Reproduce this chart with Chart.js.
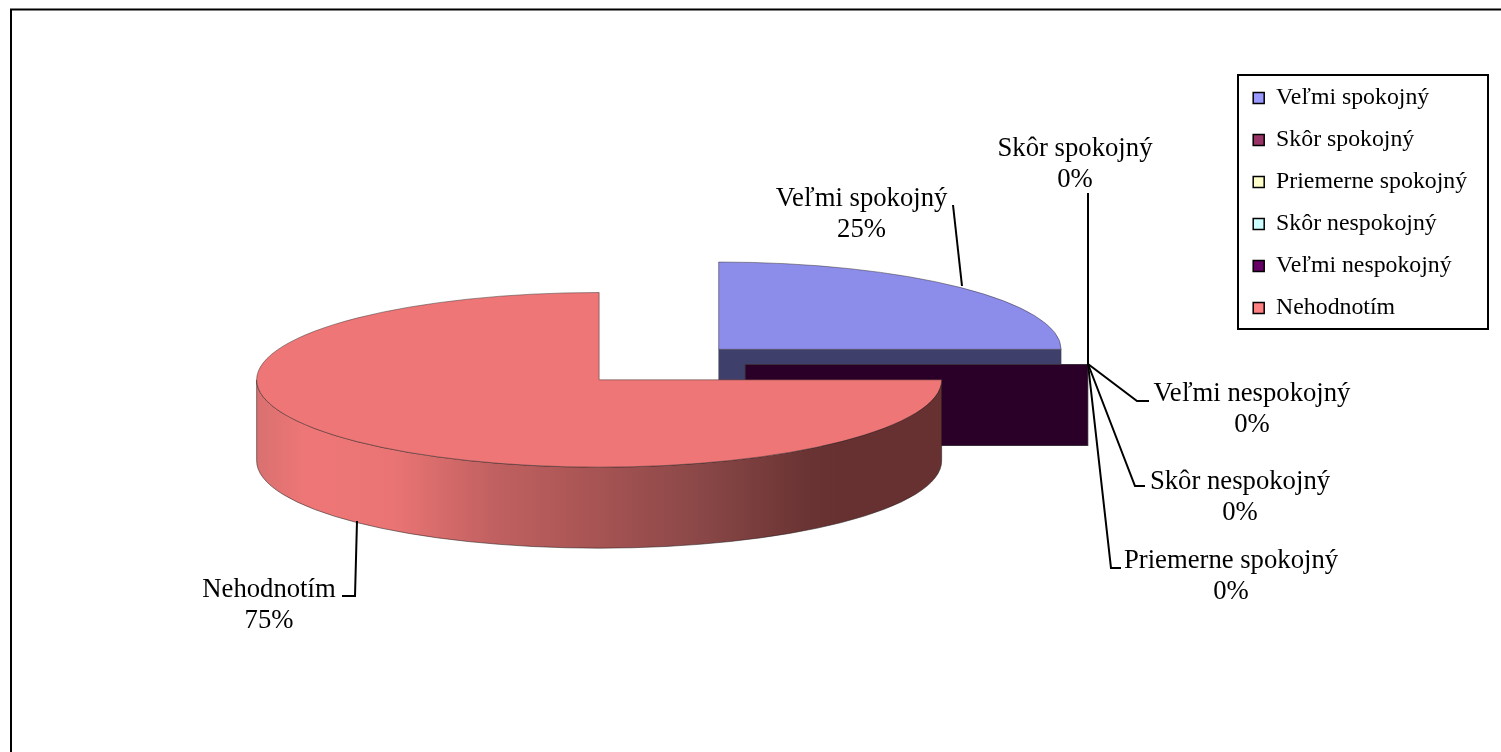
<!DOCTYPE html>
<html>
<head>
<meta charset="utf-8">
<style>html,body{margin:0;padding:0;background:#fff}canvas{display:block}</style>
<script src="https://cdn.jsdelivr.net/npm/chart.js@4"></script>
</head>
<body>
<canvas id="c" width="1501" height="752"></canvas>
<script>
const categories = ['Veľmi spokojný','Skôr spokojný','Priemerne spokojný','Skôr nespokojný','Veľmi nespokojný','Nehodnotím'];
const shareValues = [25,0,0,0,0,75];
const legendColors = ['#9999FF','#993366','#FFFFCC','#CCFFFF','#660066','#FF8080'];
const topColors = ['#8C8CEB','#993366','#FFFFCC','#CCFFFF','#660066','#EE7676'];
const wallColors = ['#3F3F6B','#401529','#6B6B55','#556B6B','#2A0029','#663130'];
const explodeDistances = [84,86,86,86,86,85];

const SERIF = '"Liberation Serif","Times New Roman",serif';
const SQUASH = 0.255, DEPTH = 81, RADIUS = 342.5, CX = 659.25, CY = 364.5;

// label layout: text centre x, first line centre y, leader polyline
const callouts = [
  {i:0, x:861.5, y:198.5, line:[[953,205],[962,286]]},
  {i:1, x:1075,  y:148.5, line:[[1088,193],[1088,364]]},
  {i:2, x:1231,  y:560.5, line:[[1088,364],[1111,568],[1121,568]]},
  {i:3, x:1240,  y:481.5, line:[[1088,364],[1135,486],[1145,486]]},
  {i:4, x:1252,  y:393.5, line:[[1088,364],[1137,401],[1149,401]]},
  {i:5, x:269,   y:589.5, line:[[357,521],[355,596],[342,596]]}
];

const pie3d = {
  id:'pie3d',
  afterLayout(chart){
    const a = chart.chartArea;
    a.left = CX-340; a.right = CX+340; a.top = CY-340; a.bottom = CY+340;
    a.width = 680; a.height = 680;
    const lg = chart.legend;
    lg.left = 1235; lg.right = 1235+lg.width; lg.top = 67.8; lg.bottom = 67.8+lg.height;
  },
  afterDatasetsUpdate(chart){
    // pull each slice out of the pie along its own middle angle
    chart.getDatasetMeta(0).data.forEach((arc,i)=>{
      const mid = (arc.startAngle+arc.endAngle)/2;
      arc.x += Math.cos(mid)*explodeDistances[i];
      arc.y += Math.sin(mid)*explodeDistances[i];
    });
  },
  beforeDatasetsDraw(chart){
    const ctx = chart.ctx, arcs = chart.getDatasetMeta(0).data;
    arcs.forEach((arc,i)=>{
      const cx = arc.x, cy = CY+(arc.y-CY)*SQUASH, r = arc.outerRadius, ry = r*SQUASH;
      ctx.save();
      if (i === 5){
        // rim facing the viewer, from the east point round to the west point
        const g = ctx.createLinearGradient(cx-r,0,cx+r,0);
        [[0,'#D97070'],[0.07,'#EE7676'],[0.2,'#EA7474'],[0.35,'#C06060'],[0.48,'#AA5555'],[0.65,'#8A4747'],[0.8,'#6B3434'],[0.85,'#663130'],[1,'#663130']]
          .forEach(s=>g.addColorStop(s[0],s[1]));
        ctx.beginPath();
        ctx.ellipse(cx,cy,r,ry,0,0,Math.PI);
        ctx.lineTo(cx-r,cy+DEPTH);
        ctx.ellipse(cx,cy+DEPTH,r,ry,0,Math.PI,0,true);
        ctx.closePath();
        ctx.fillStyle = g; ctx.fill();
        ctx.strokeStyle = 'rgba(40,30,30,.55)'; ctx.lineWidth = 1; ctx.stroke();
      } else {
        // radial face on the east edge of the slice
        ctx.fillStyle = wallColors[i];
        ctx.fillRect(cx,cy,r,DEPTH);
        ctx.strokeStyle = 'rgba(60,60,60,.35)'; ctx.lineWidth = 1;
        ctx.strokeRect(cx,cy,r,DEPTH);
      }
      ctx.restore();
    });
    ctx.save();
    ctx.translate(0,CY); ctx.scale(1,SQUASH); ctx.translate(0,-CY);
  },
  afterDatasetsDraw(chart){ chart.ctx.restore(); },
  afterDraw(chart){
    const ctx = chart.ctx, total = shareValues.reduce((s,v)=>s+v,0);
    ctx.save();
    // chart frame and legend box
    ctx.strokeStyle = '#000'; ctx.lineWidth = 2;
    ctx.beginPath(); ctx.moveTo(11,752); ctx.lineTo(11,9.5); ctx.lineTo(1501,9.5); ctx.stroke();
    ctx.strokeRect(1238,75,250,254);
    // leaders
    ctx.lineWidth = 2; ctx.strokeStyle = '#000';
    callouts.forEach(c=>{
      ctx.beginPath();
      c.line.forEach((pt,j)=> j ? ctx.lineTo(pt[0],pt[1]) : ctx.moveTo(pt[0],pt[1]));
      ctx.stroke();
    });
    // labels
    ctx.fillStyle = '#000'; ctx.textAlign = 'center'; ctx.textBaseline = 'middle';
    ctx.font = '26.7px '+SERIF;
    callouts.forEach(c=>{
      ctx.fillText(categories[c.i], c.x, c.y);
      ctx.fillText(Math.round(shareValues[c.i]/total*100)+'%', c.x, c.y+31);
    });
    ctx.restore();
  }
};

new Chart(document.getElementById('c'),{
  type:'pie',
  data:{labels:categories,datasets:[{
    data:shareValues,
    backgroundColor:topColors,
    borderColor:'rgba(50,40,40,.75)',
    borderWidth:1,
    offset:0,
    hoverOffset:0,
    radius:RADIUS,
    clip:false
  }]},
  options:{
    responsive:false,
    animation:false,
    layout:{padding:{right:12,top:68}},
    plugins:{
      tooltip:{enabled:false},
      legend:{
        position:'right',align:'start',
        labels:{
          boxWidth:11,boxHeight:11,padding:18.2,color:'#000',
          font:{family:SERIF,size:23.8},
          generateLabels:()=>categories.map((t,i)=>({text:t,fillStyle:legendColors[i],strokeStyle:'#000',lineWidth:1.5,index:i,hidden:false}))
        }
      }
    }
  },
  plugins:[pie3d]
});
</script>
</body>
</html>
